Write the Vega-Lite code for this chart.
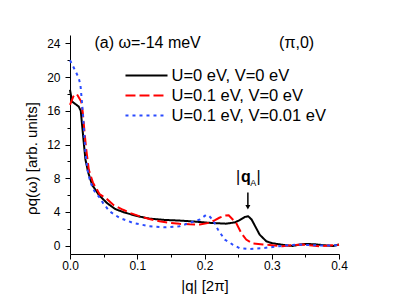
{
  "$schema": "https://vega.github.io/schema/vega-lite/v6.json",
  "width": 269,
  "height": 219,
  "autosize": {"type": "none"},
  "padding": {"left": 70, "top": 35, "right": 55, "bottom": 51},
  "config": {
    "view": {"stroke": null},
    "font": "Liberation Sans",
    "axis": {
      "grid": false,
      "domainColor": "black",
      "tickColor": "black",
      "labelColor": "black",
      "titleColor": "black",
      "labelFont": "Liberation Sans",
      "titleFont": "Liberation Sans",
      "labelFontSize": 12,
      "titleFontSize": 15,
      "titleFontWeight": "normal"
    }
  },
  "datasets": {
    "curves": [
      {"series": "U=0 eV, V=0 eV", "q": 0.000, "rho": 18.5},
      {"series": "U=0 eV, V=0 eV", "q": 0.003, "rho": 17.1},
      {"series": "U=0 eV, V=0 eV", "q": 0.008, "rho": 16.8},
      {"series": "U=0 eV, V=0 eV", "q": 0.013, "rho": 16.5},
      {"series": "U=0 eV, V=0 eV", "q": 0.016, "rho": 16.0},
      {"series": "U=0 eV, V=0 eV", "q": 0.018, "rho": 14.3},
      {"series": "U=0 eV, V=0 eV", "q": 0.0205, "rho": 12.2},
      {"series": "U=0 eV, V=0 eV", "q": 0.023, "rho": 10.2},
      {"series": "U=0 eV, V=0 eV", "q": 0.027, "rho": 8.7},
      {"series": "U=0 eV, V=0 eV", "q": 0.033, "rho": 7.2},
      {"series": "U=0 eV, V=0 eV", "q": 0.043, "rho": 6.0},
      {"series": "U=0 eV, V=0 eV", "q": 0.055, "rho": 5.05},
      {"series": "U=0 eV, V=0 eV", "q": 0.067, "rho": 4.35},
      {"series": "U=0 eV, V=0 eV", "q": 0.080, "rho": 3.95},
      {"series": "U=0 eV, V=0 eV", "q": 0.100, "rho": 3.5},
      {"series": "U=0 eV, V=0 eV", "q": 0.118, "rho": 3.2},
      {"series": "U=0 eV, V=0 eV", "q": 0.140, "rho": 3.05},
      {"series": "U=0 eV, V=0 eV", "q": 0.163, "rho": 2.97},
      {"series": "U=0 eV, V=0 eV", "q": 0.185, "rho": 2.85},
      {"series": "U=0 eV, V=0 eV", "q": 0.207, "rho": 2.7},
      {"series": "U=0 eV, V=0 eV", "q": 0.232, "rho": 2.6},
      {"series": "U=0 eV, V=0 eV", "q": 0.245, "rho": 2.75},
      {"series": "U=0 eV, V=0 eV", "q": 0.252, "rho": 3.0},
      {"series": "U=0 eV, V=0 eV", "q": 0.260, "rho": 3.4},
      {"series": "U=0 eV, V=0 eV", "q": 0.265, "rho": 3.48},
      {"series": "U=0 eV, V=0 eV", "q": 0.270, "rho": 3.1},
      {"series": "U=0 eV, V=0 eV", "q": 0.274, "rho": 2.5},
      {"series": "U=0 eV, V=0 eV", "q": 0.282, "rho": 1.3},
      {"series": "U=0 eV, V=0 eV", "q": 0.292, "rho": 0.5},
      {"series": "U=0 eV, V=0 eV", "q": 0.300, "rho": 0.3},
      {"series": "U=0 eV, V=0 eV", "q": 0.307, "rho": 0.2},
      {"series": "U=0 eV, V=0 eV", "q": 0.320, "rho": 0.05},
      {"series": "U=0 eV, V=0 eV", "q": 0.331, "rho": -0.05},
      {"series": "U=0 eV, V=0 eV", "q": 0.340, "rho": 0.1},
      {"series": "U=0 eV, V=0 eV", "q": 0.351, "rho": 0.2},
      {"series": "U=0 eV, V=0 eV", "q": 0.365, "rho": 0.15},
      {"series": "U=0 eV, V=0 eV", "q": 0.376, "rho": 0.05},
      {"series": "U=0 eV, V=0 eV", "q": 0.391, "rho": -0.05},
      {"series": "U=0 eV, V=0 eV", "q": 0.400, "rho": 0.12},

      {"series": "U=0.1 eV, V=0 eV", "q": 0.000, "rho": 16.7},
      {"series": "U=0.1 eV, V=0 eV", "q": 0.005, "rho": 17.7},
      {"series": "U=0.1 eV, V=0 eV", "q": 0.010, "rho": 18.0},
      {"series": "U=0.1 eV, V=0 eV", "q": 0.0166, "rho": 17.1},
      {"series": "U=0.1 eV, V=0 eV", "q": 0.019, "rho": 15.8},
      {"series": "U=0.1 eV, V=0 eV", "q": 0.021, "rho": 14.0},
      {"series": "U=0.1 eV, V=0 eV", "q": 0.024, "rho": 11.5},
      {"series": "U=0.1 eV, V=0 eV", "q": 0.028, "rho": 9.0},
      {"series": "U=0.1 eV, V=0 eV", "q": 0.034, "rho": 7.5},
      {"series": "U=0.1 eV, V=0 eV", "q": 0.044, "rho": 6.1},
      {"series": "U=0.1 eV, V=0 eV", "q": 0.054, "rho": 5.6},
      {"series": "U=0.1 eV, V=0 eV", "q": 0.065, "rho": 4.8},
      {"series": "U=0.1 eV, V=0 eV", "q": 0.079, "rho": 4.25},
      {"series": "U=0.1 eV, V=0 eV", "q": 0.090, "rho": 3.85},
      {"series": "U=0.1 eV, V=0 eV", "q": 0.103, "rho": 3.5},
      {"series": "U=0.1 eV, V=0 eV", "q": 0.118, "rho": 3.15},
      {"series": "U=0.1 eV, V=0 eV", "q": 0.133, "rho": 2.89},
      {"series": "U=0.1 eV, V=0 eV", "q": 0.148, "rho": 2.7},
      {"series": "U=0.1 eV, V=0 eV", "q": 0.163, "rho": 2.58},
      {"series": "U=0.1 eV, V=0 eV", "q": 0.178, "rho": 2.52},
      {"series": "U=0.1 eV, V=0 eV", "q": 0.193, "rho": 2.5},
      {"series": "U=0.1 eV, V=0 eV", "q": 0.207, "rho": 2.7},
      {"series": "U=0.1 eV, V=0 eV", "q": 0.215, "rho": 3.0},
      {"series": "U=0.1 eV, V=0 eV", "q": 0.222, "rho": 3.3},
      {"series": "U=0.1 eV, V=0 eV", "q": 0.230, "rho": 3.55},
      {"series": "U=0.1 eV, V=0 eV", "q": 0.236, "rho": 3.6},
      {"series": "U=0.1 eV, V=0 eV", "q": 0.242, "rho": 3.1},
      {"series": "U=0.1 eV, V=0 eV", "q": 0.247, "rho": 2.7},
      {"series": "U=0.1 eV, V=0 eV", "q": 0.2546, "rho": 1.5},
      {"series": "U=0.1 eV, V=0 eV", "q": 0.262, "rho": 0.71},
      {"series": "U=0.1 eV, V=0 eV", "q": 0.272, "rho": 0.24},
      {"series": "U=0.1 eV, V=0 eV", "q": 0.287, "rho": 0.12},
      {"series": "U=0.1 eV, V=0 eV", "q": 0.300, "rho": 0.05},
      {"series": "U=0.1 eV, V=0 eV", "q": 0.316, "rho": -0.08},
      {"series": "U=0.1 eV, V=0 eV", "q": 0.330, "rho": 0.05},
      {"series": "U=0.1 eV, V=0 eV", "q": 0.346, "rho": 0.12},
      {"series": "U=0.1 eV, V=0 eV", "q": 0.360, "rho": 0.0},
      {"series": "U=0.1 eV, V=0 eV", "q": 0.371, "rho": -0.08},
      {"series": "U=0.1 eV, V=0 eV", "q": 0.385, "rho": 0.0},
      {"series": "U=0.1 eV, V=0 eV", "q": 0.400, "rho": 0.1},

      {"series": "U=0.1 eV, V=0.01 eV", "q": 0.000, "rho": 22.0},
      {"series": "U=0.1 eV, V=0.01 eV", "q": 0.007, "rho": 20.9},
      {"series": "U=0.1 eV, V=0.01 eV", "q": 0.013, "rho": 19.9},
      {"series": "U=0.1 eV, V=0.01 eV", "q": 0.0156, "rho": 19.0},
      {"series": "U=0.1 eV, V=0.01 eV", "q": 0.0175, "rho": 17.3},
      {"series": "U=0.1 eV, V=0.01 eV", "q": 0.019, "rho": 15.8},
      {"series": "U=0.1 eV, V=0.01 eV", "q": 0.021, "rho": 13.5},
      {"series": "U=0.1 eV, V=0.01 eV", "q": 0.023, "rho": 11.0},
      {"series": "U=0.1 eV, V=0.01 eV", "q": 0.026, "rho": 9.0},
      {"series": "U=0.1 eV, V=0.01 eV", "q": 0.030, "rho": 7.6},
      {"series": "U=0.1 eV, V=0.01 eV", "q": 0.036, "rho": 6.5},
      {"series": "U=0.1 eV, V=0.01 eV", "q": 0.045, "rho": 5.6},
      {"series": "U=0.1 eV, V=0.01 eV", "q": 0.049, "rho": 5.07},
      {"series": "U=0.1 eV, V=0.01 eV", "q": 0.0587, "rho": 4.07},
      {"series": "U=0.1 eV, V=0.01 eV", "q": 0.0736, "rho": 3.29},
      {"series": "U=0.1 eV, V=0.01 eV", "q": 0.0934, "rho": 2.7},
      {"series": "U=0.1 eV, V=0.01 eV", "q": 0.118, "rho": 2.29},
      {"series": "U=0.1 eV, V=0.01 eV", "q": 0.143, "rho": 2.17},
      {"series": "U=0.1 eV, V=0.01 eV", "q": 0.163, "rho": 2.29},
      {"series": "U=0.1 eV, V=0.01 eV", "q": 0.178, "rho": 2.7},
      {"series": "U=0.1 eV, V=0.01 eV", "q": 0.193, "rho": 3.09},
      {"series": "U=0.1 eV, V=0.01 eV", "q": 0.2025, "rho": 3.65},
      {"series": "U=0.1 eV, V=0.01 eV", "q": 0.207, "rho": 3.5},
      {"series": "U=0.1 eV, V=0.01 eV", "q": 0.212, "rho": 3.09},
      {"series": "U=0.1 eV, V=0.01 eV", "q": 0.220, "rho": 1.9},
      {"series": "U=0.1 eV, V=0.01 eV", "q": 0.230, "rho": 0.71},
      {"series": "U=0.1 eV, V=0.01 eV", "q": 0.242, "rho": 0.12},
      {"series": "U=0.1 eV, V=0.01 eV", "q": 0.252, "rho": -0.3},
      {"series": "U=0.1 eV, V=0.01 eV", "q": 0.267, "rho": -0.4},
      {"series": "U=0.1 eV, V=0.01 eV", "q": 0.289, "rho": -0.28},
      {"series": "U=0.1 eV, V=0.01 eV", "q": 0.311, "rho": -0.08},
      {"series": "U=0.1 eV, V=0.01 eV", "q": 0.325, "rho": 0.05},
      {"series": "U=0.1 eV, V=0.01 eV", "q": 0.341, "rho": 0.12},
      {"series": "U=0.1 eV, V=0.01 eV", "q": 0.360, "rho": 0.05},
      {"series": "U=0.1 eV, V=0.01 eV", "q": 0.380, "rho": 0.0},
      {"series": "U=0.1 eV, V=0.01 eV", "q": 0.400, "rho": 0.05}
    ],
    "legend": [
      {"series": "U=0 eV, V=0 eV", "q1": 0.0825, "q2": 0.145, "qt": 0.151, "rho": 20.19},
      {"series": "U=0.1 eV, V=0 eV", "q1": 0.0825, "q2": 0.145, "qt": 0.151, "rho": 17.81},
      {"series": "U=0.1 eV, V=0.01 eV", "q1": 0.0825, "q2": 0.145, "qt": 0.151, "rho": 15.44}
    ]
  },
  "resolve": {"axis": {"x": "independent", "y": "independent"}},
  "layer": [
    {
      "data": {"name": "curves"},
      "mark": {"type": "line", "strokeWidth": 2},
      "encoding": {
        "x": {"field": "q", "type": "quantitative",
              "scale": {"domain": [0, 0.4], "nice": false, "zero": false},
              "axis": {"orient": "bottom", "values": [0, 0.1, 0.2, 0.3, 0.4], "format": ".1f",
                       "tickSize": 5, "labelPadding": 1, "title": "|q| [2π]", "titlePadding": 7,
                       "labelFlush": false}},
        "y": {"field": "rho", "type": "quantitative",
              "scale": {"domain": [-1, 25], "nice": false, "zero": false},
              "axis": {"orient": "left", "values": [0, 4, 8, 12, 16, 20, 24],
                       "tickSize": 5, "labelPadding": 5, "title": "ρq(ω) [arb. units]",
                       "titlePadding": 7, "titleY": 123, "labelFlush": false, "labelOverlap": false}},
        "color": {"field": "series", "type": "nominal", "legend": null,
                  "scale": {"domain": ["U=0 eV, V=0 eV", "U=0.1 eV, V=0 eV", "U=0.1 eV, V=0.01 eV"],
                            "range": ["#000000", "#ff0000", "#2a4bff"]}},
        "strokeDash": {"field": "series", "type": "nominal", "legend": null,
                       "scale": {"domain": ["U=0 eV, V=0 eV", "U=0.1 eV, V=0 eV", "U=0.1 eV, V=0.01 eV"],
                                 "range": [[1, 0], [10, 4], [3, 4]]}},
        "order": {"field": "q", "type": "quantitative"}
      }
    },
    {
      "data": {"name": "legend"},
      "mark": {"type": "rule", "strokeWidth": 2},
      "encoding": {
        "x": {"field": "q1", "type": "quantitative",
              "axis": {"orient": "bottom", "values": [0.05, 0.15, 0.25, 0.35], "labels": false,
                       "domain": false, "tickSize": 3, "title": null}},
        "x2": {"field": "q2"},
        "y": {"field": "rho", "type": "quantitative",
              "axis": {"orient": "left", "values": [2, 6, 10, 14, 18, 22], "labels": false,
                       "domain": false, "tickSize": 3, "title": null}},
        "color": {"field": "series", "type": "nominal", "legend": null},
        "strokeDash": {"field": "series", "type": "nominal", "legend": null}
      }
    },
    {
      "data": {"name": "legend"},
      "mark": {"type": "text", "align": "left", "baseline": "middle", "fontSize": 16.5, "font": "Liberation Sans", "color": "black"},
      "encoding": {
        "x": {"field": "qt", "type": "quantitative", "axis": null},
        "y": {"field": "rho", "type": "quantitative", "axis": null},
        "text": {"field": "series"}
      }
    },
    {
      "data": {"values": [{"q": 0.0364, "rho": 24.0, "text": "(a) ω=-14 meV"}]},
      "mark": {"type": "text", "align": "left", "baseline": "middle", "fontSize": 16, "font": "Liberation Sans", "color": "black"},
      "encoding": {
        "x": {"field": "q", "type": "quantitative", "axis": null},
        "y": {"field": "rho", "type": "quantitative", "axis": null},
        "text": {"field": "text"}
      }
    },
    {
      "data": {"values": [{"q": 0.337, "rho": 24.0, "text": "(π,0)"}]},
      "mark": {"type": "text", "align": "center", "baseline": "middle", "fontSize": 16, "font": "Liberation Sans", "color": "black"},
      "encoding": {
        "x": {"field": "q", "type": "quantitative", "axis": null},
        "y": {"field": "rho", "type": "quantitative", "axis": null},
        "text": {"field": "text"}
      }
    },
    {
      "data": {"values": [{"q": 0.250, "rho": 8.1, "t": "|"}, {"q": 0.2803, "rho": 8.1, "t": "|"}]},
      "mark": {"type": "text", "baseline": "middle", "align": "center", "fontSize": 16, "font": "Liberation Sans", "color": "black"},
      "encoding": {
        "x": {"field": "q", "type": "quantitative", "axis": null},
        "y": {"field": "rho", "type": "quantitative", "axis": null},
        "text": {"field": "t"}
      }
    },
    {
      "data": {"values": [{"q": 0.2615, "rho": 8.1, "t": "q"}]},
      "mark": {"type": "text", "baseline": "middle", "align": "center", "fontSize": 16, "fontWeight": "bold", "font": "Liberation Sans", "color": "black"},
      "encoding": {
        "x": {"field": "q", "type": "quantitative", "axis": null},
        "y": {"field": "rho", "type": "quantitative", "axis": null},
        "text": {"field": "t"}
      }
    },
    {
      "data": {"values": [{"q": 0.2725, "rho": 7.4, "t": "A"}]},
      "mark": {"type": "text", "baseline": "middle", "align": "center", "fontSize": 9, "font": "Liberation Sans", "color": "black"},
      "encoding": {
        "x": {"field": "q", "type": "quantitative", "axis": null},
        "y": {"field": "rho", "type": "quantitative", "axis": null},
        "text": {"field": "t"}
      }
    },
    {
      "data": {"values": [{"q": 0.2645, "rho": 6.3, "rho2": 4.6}]},
      "mark": {"type": "rule", "strokeWidth": 1.5, "color": "black"},
      "encoding": {
        "x": {"field": "q", "type": "quantitative", "axis": null},
        "y": {"field": "rho", "type": "quantitative", "axis": null},
        "y2": {"field": "rho2"}
      }
    },
    {
      "data": {"values": [{"q": 0.2645, "rho": 4.55}]},
      "mark": {"type": "point", "shape": "triangle-down", "filled": true, "size": 25, "color": "black", "opacity": 1},
      "encoding": {
        "x": {"field": "q", "type": "quantitative", "axis": null},
        "y": {"field": "rho", "type": "quantitative", "axis": null}
      }
    }
  ]
}
